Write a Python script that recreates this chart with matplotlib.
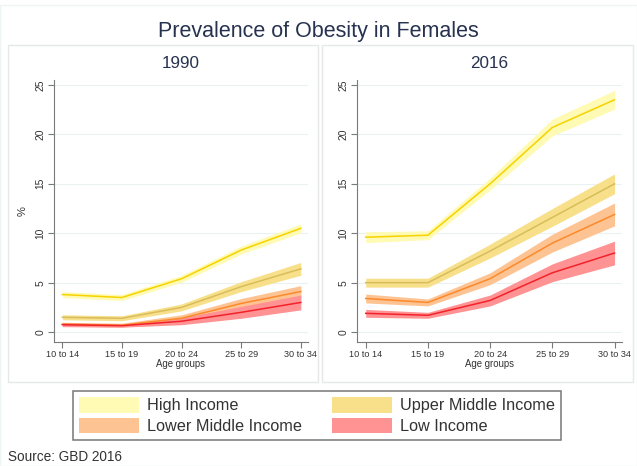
"""
Prevalence of obesity in females by age group and World Bank income group,
1990 vs 2016 (GBD 2016): point estimate lines with uncertainty bands.
"""

import matplotlib

matplotlib.use("Agg")
import matplotlib.pyplot as plt
from matplotlib.patches import Patch, Rectangle
import numpy as np

plt.rcParams["font.family"] = ["Liberation Sans", "DejaVu Sans"]

age_groups = ["10 to 14", "15 to 19", "20 to 24", "25 to 29", "30 to 34"]
income_groups = ["High Income", "Upper Middle Income", "Lower Middle Income", "Low Income"]

# 1990: estimate, half-width of the uncertainty band (% prevalence)
high_1990 = [3.8, 3.5, 5.4, 8.3, 10.5]
high_1990_err = [0.3, 0.3, 0.35, 0.4, 0.45]
upper_1990 = [1.5, 1.4, 2.5, 4.6, 6.4]
upper_1990_err = [0.25, 0.25, 0.35, 0.5, 0.65]
lower_1990 = [0.8, 0.7, 1.4, 2.9, 4.1]
lower_1990_err = [0.2, 0.2, 0.35, 0.5, 0.6]
low_1990 = [0.75, 0.65, 1.1, 2.0, 3.0]
low_1990_err = [0.2, 0.15, 0.35, 0.6, 0.75]

# 2016
high_2016 = [9.6, 9.8, 15.0, 20.7, 23.5]
high_2016_err = [0.55, 0.45, 0.6, 0.85, 0.95]
upper_2016 = [5.0, 5.0, 8.2, 11.6, 15.0]
upper_2016_err = [0.45, 0.45, 0.7, 0.9, 1.0]
lower_2016 = [3.4, 3.0, 5.4, 9.0, 11.9]
lower_2016_err = [0.45, 0.35, 0.6, 0.9, 1.15]
low_2016 = [1.9, 1.7, 3.2, 6.0, 8.0]
low_2016_err = [0.4, 0.3, 0.55, 0.9, 1.2]

_FILLS = ["#fffab4", "#f8e08a", "#fdc392", "#ff9393"]
_LINES = ["#f7d200", "#d8bd5c", "#fb8a2c", "#f2222a"]
_TEXT = "#26324f"
_AXIS = "#7a7a7a"

W, H = 637, 466
fig = plt.figure(figsize=(W / 100, H / 100), dpi=100)


def fx(px):
    return px / W


def fy(py):
    return 1 - py / H


# faint outer region line and the two panel frames
fig.add_artist(Rectangle((fx(0), fy(466)), 1, fy(5) - fy(466), transform=fig.transFigure,
                         fill=False, edgecolor="#eef3f4", linewidth=1.0))
for x0, x1 in [(8, 318), (322, 633)]:
    fig.add_artist(Rectangle((fx(x0), fy(382)), fx(x1 - x0), fy(45) - fy(382),
                             transform=fig.transFigure, fill=False,
                             edgecolor="#e4e8e9", linewidth=1.0))

fig.text(0.5, fy(31), "Prevalence of Obesity in Females", ha="center", va="center",
         fontsize=15.5, color=_TEXT)

panels = [
    ("1990", (54, 308), [(high_1990, high_1990_err), (upper_1990, upper_1990_err),
                         (lower_1990, lower_1990_err), (low_1990, low_1990_err)]),
    ("2016", (357, 622), [(high_2016, high_2016_err), (upper_2016, upper_2016_err),
                          (lower_2016, lower_2016_err), (low_2016, low_2016_err)]),
]

x = np.arange(len(age_groups))
for i, (year, (left, right), series) in enumerate(panels):
    ax = fig.add_axes([fx(left), fy(342), fx(right - left), fy(80) - fy(342)])
    for (est, err), fill in zip(series, _FILLS):
        est, err = np.asarray(est), np.asarray(err)
        ax.fill_between(x, est - err, est + err, color=fill, linewidth=0, zorder=2)
    for (est, err), line in zip(series, _LINES):
        ax.plot(x, est, color=line, linewidth=1.1, zorder=3)

    ax.set_xlim(-0.14, 4.12)
    ax.set_ylim(-1.0, 25.5)
    ax.set_yticks(range(0, 26, 5))
    ax.set_xticks(x)
    ax.set_xticklabels(age_groups, fontsize=6.6, color="#333333")
    ax.tick_params(axis="y", labelsize=7.4, labelcolor="#333333", rotation=90,
                   length=4, width=0.8, color=_AXIS, pad=2)
    ax.tick_params(axis="x", length=4, width=0.8, color=_AXIS, pad=2)
    for lab in ax.get_yticklabels():
        lab.set_va("center")
    ax.yaxis.grid(True, color="#e9f1f3", linewidth=0.8)
    ax.set_axisbelow(True)
    for spine in ("top", "right"):
        ax.spines[spine].set_visible(False)
    for spine in ("left", "bottom"):
        ax.spines[spine].set_color(_AXIS)
        ax.spines[spine].set_linewidth(0.8)
    ax.set_xlabel("Age groups", fontsize=6.9, color="#333333", labelpad=0)
    if i == 0:
        ax.set_ylabel("%", fontsize=8, color="#333333", labelpad=6)
    ax.set_title(year, fontsize=12.3, color=_TEXT, pad=9)

# legend is filled column-wise: reorder so rows read High/Upper, Lower/Low
handles = [Patch(facecolor=c, edgecolor="none", label=lab)
           for c, lab in zip(_FILLS, income_groups)]
handles = [handles[0], handles[2], handles[1], handles[3]]
leg = fig.legend(handles=handles, ncol=2, loc="center",
                 bbox_to_anchor=(fx((71 + 563) / 2), fy((389 + 442) / 2)),
                 fontsize=11.7, frameon=True, fancybox=False, handlelength=3.7,
                 handleheight=1.1, handletextpad=0.5, columnspacing=1.8,
                 labelspacing=0.25, borderpad=0.35)
leg.get_frame().set_edgecolor("#555555")
leg.get_frame().set_linewidth(1.1)
for t in leg.get_texts():
    t.set_color("#333333")

fig.text(fx(8), fy(457), "Source: GBD 2016", ha="left", va="center", fontsize=9.8,
         color="#333333")

fig.savefig("out.png", dpi=100, facecolor="white")
